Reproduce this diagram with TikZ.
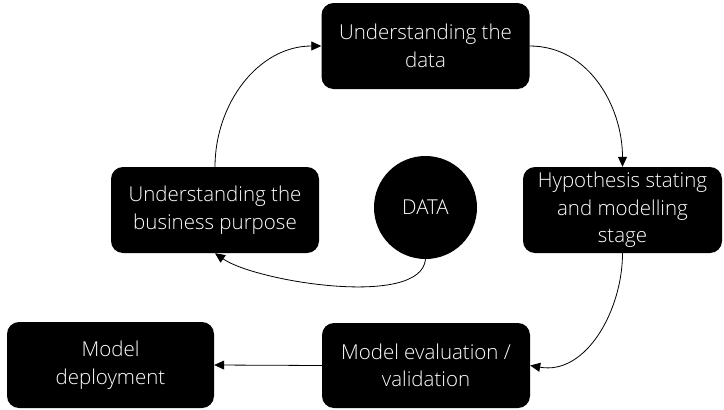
\documentclass[tikz,border=0pt]{standalone}
\usepackage{fontspec}
\IfFontExistsTF{Open Sans Light}{\setmainfont{Open Sans Light}}{\setmainfont{Open Sans}}
\usetikzlibrary{arrows.meta}
\begin{document}
\begin{tikzpicture}[x=1pt,y=-1pt,
                    stagebox/.style={shape=rectangle, rounded corners=12pt,
                                     fill=black, text=white, inner sep=0pt,
                                     minimum width=208pt, minimum height=86pt,
                                     align=center, font=\fontsize{20.5}{27.5}\selectfont},
                    flow/.style={-{Triangle[length=10pt,width=9pt]}, line width=0.8pt}]

\useasboundingbox (0,0) rectangle (724,410);

\node[stagebox] (und) at (425.5,46) {Understanding the\\data};
\node[stagebox] (biz) at (215,210) {Understanding the\\business purpose};
\node[stagebox, minimum width=199pt] (hyp) at (622.5,210) {Hypothesis stating\\and modelling\\stage};
\node[stagebox, minimum height=85pt] (eval) at (426,365.5) {Model evaluation /\\validation};
\node[stagebox, minimum width=207pt] (deploy) at (110.5,365) {Model\\deployment};

\node[circle, fill=black, text=white, inner sep=0pt, minimum size=103pt,
      font=\fontsize{20.5}{27.5}\selectfont] (data) at (425.5,207.5) {DATA};

\draw[flow] (biz.north) to[out=90,in=180] (und.west);
\draw[flow] (und.east) to[out=0,in=90] (hyp.north);
\draw[flow] (hyp.south) to[out=-90,in=-10] (eval.east);
\draw[flow] (eval.west) -- (deploy.east);
\draw[flow] (data.south) to[out=-95,in=-35,looseness=0.6] (biz.south);

\end{tikzpicture}
\end{document}
